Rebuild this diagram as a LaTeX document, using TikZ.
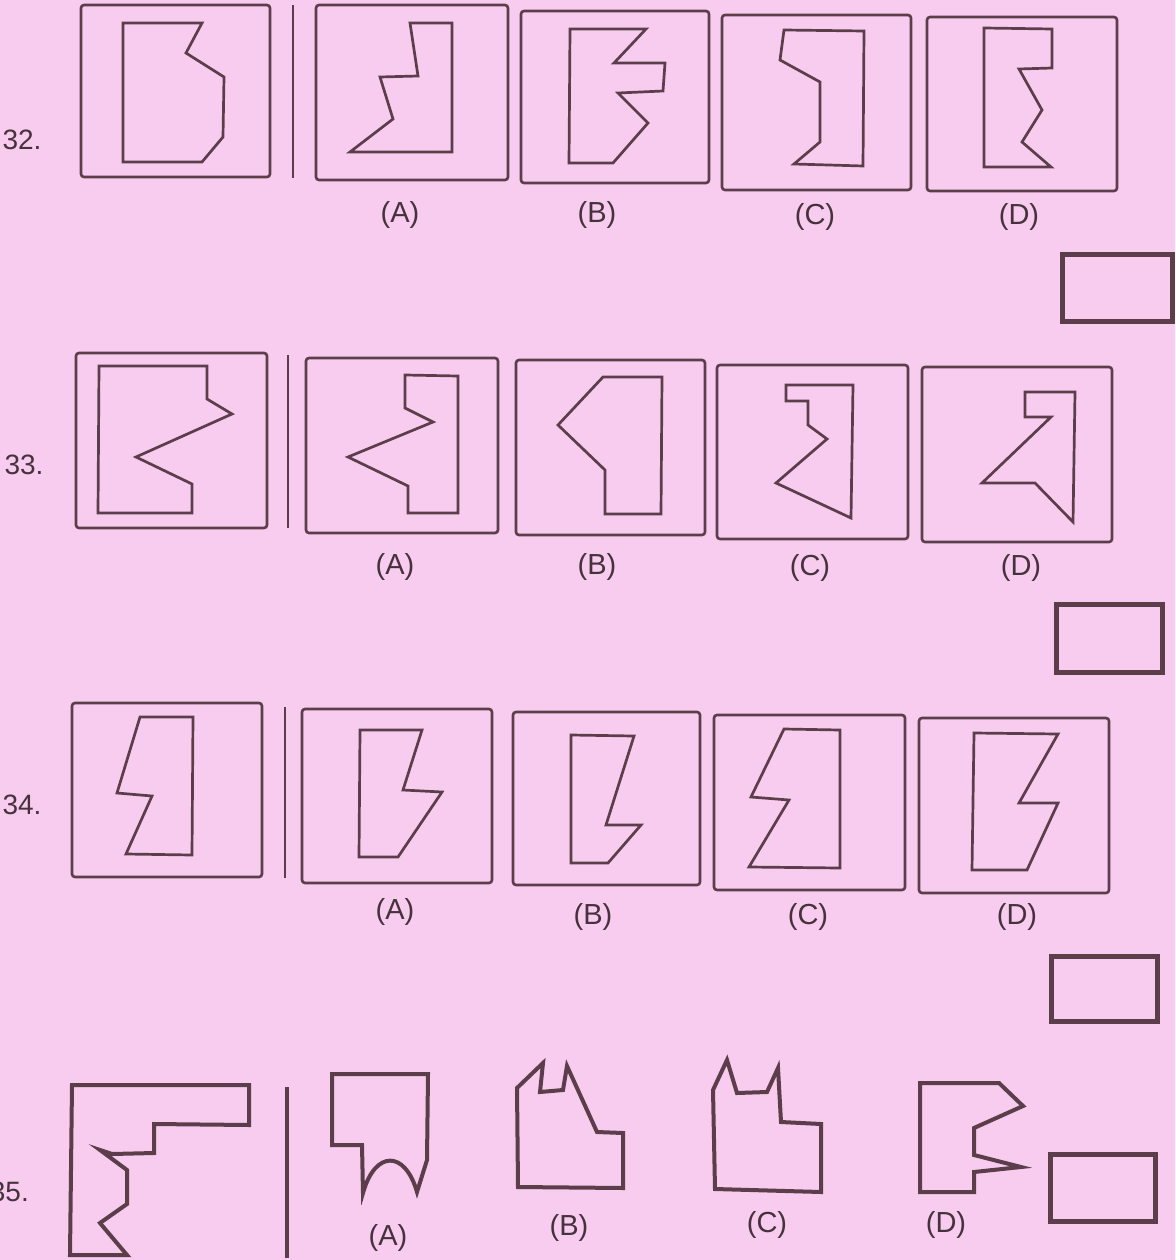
\documentclass[tikz,border=0pt]{standalone}
\usepackage{fontspec}
\setmainfont{Liberation Sans}
\definecolor{bgpink}{RGB}{248,204,238}
\definecolor{ink}{RGB}{92,62,74}
\definecolor{txt}{RGB}{70,50,60}
\begin{document}
\begin{tikzpicture}[x=1pt,y=-1pt,
  qbox/.style={draw=ink,line width=2.6pt,rounded corners=3pt},
  fig/.style={draw=ink,line width=2.7pt,line join=miter},
  figb/.style={draw=ink,line width=4pt,line join=miter},
  ansrect/.style={draw=ink,line width=5pt},
  sepline/.style={draw=ink,line width=2.6pt},
  septhick/.style={draw=ink,line width=4pt},
  lbl/.style={text=txt,font=\fontsize{29}{34}\selectfont,inner sep=0pt},
  num/.style={text=txt,font=\fontsize{28}{33}\selectfont,inner sep=0pt}]
\fill[bgpink] (0,0) rectangle (1175,1260);
\useasboundingbox (0,0) rectangle (1175,1260);

% ---------- Row 32 ----------
\node[num] (n32) at (22,140) {32.};
\draw[qbox] (81,5) rectangle (270,177);
\draw[fig] (123,23)--(202,23)--(186,53)--(224,77)--(223,137)--(202,162)--(123,162)--cycle;
\draw[sepline] (293,5)--(293,178);
\draw[qbox] (316,5) rectangle (508,180);
\draw[fig] (410,23)--(452,23)--(452,152)--(350,152)--(393,119)--(380,77)--(418,76)--cycle;
\draw[qbox] (521,11) rectangle (709,183);
\draw[fig] (570,29)--(646,29)--(614,63)--(665,63)--(663,91)--(618,93)--(648,123)--(613,163)--(569,163)--cycle;
\draw[qbox] (722,15) rectangle (911,190);
\draw[fig] (784,30)--(864,31)--(863,166)--(794,164)--(820,142)--(820,82)--(780,60)--cycle;
\draw[qbox] (927,17) rectangle (1117,191);
\draw[fig] (984,28)--(1052,29)--(1052,68)--(1019,69)--(1042,110)--(1022,142)--(1051,167)--(984,167)--cycle;
\node[lbl] (a32) at (400,215) {(A)};
\node[lbl] (b32) at (597,215) {(B)};
\node[lbl] (c32) at (815,217) {(C)};
\node[lbl] (d32) at (1019,217) {(D)};
\draw[ansrect] (1062,254) rectangle (1172,321);

% ---------- Row 33 ----------
\node[num] (n33) at (24,465) {33.};
\draw[qbox] (76,353) rectangle (267,528);
\draw[fig] (99,366)--(207,366)--(207,399)--(232,414)--(136,457)--(192,484)--(192,513)--(98,513)--cycle;
\draw[sepline] (288,355)--(288,528);
\draw[qbox] (306,358) rectangle (498,533);
\draw[fig] (405,375)--(458,376)--(458,513)--(408,513)--(408,486)--(348,457)--(433,422)--(405,408)--cycle;
\draw[qbox] (516,360) rectangle (705,535);
\draw[fig] (603,377)--(662,377)--(661,514)--(605,514)--(605,470)--(558,425)--cycle;
\draw[qbox] (717,365) rectangle (908,539);
\draw[fig] (786,385)--(853,385)--(851,518)--(776,483)--(827,439)--(808,425)--(808,401)--(786,401)--cycle;
\draw[qbox] (922,367) rectangle (1112,542);
\draw[fig] (1025,392)--(1075,392)--(1073,522)--(1035,483)--(982,483)--(1051,417)--(1025,417)--cycle;
\node[lbl] (a33) at (395,567) {(A)};
\node[lbl] (b33) at (597,567) {(B)};
\node[lbl] (c33) at (810,568) {(C)};
\node[lbl] (d33) at (1021,568) {(D)};
\draw[ansrect] (1056,604) rectangle (1162,672);

% ---------- Row 34 ----------
\node[num] (n34) at (22,805) {34.};
\draw[qbox] (72,703) rectangle (262,877);
\draw[fig] (140,717)--(193,717)--(192,855)--(126,854)--(152,796)--(117,793)--cycle;
\draw[sepline] (285,707)--(285,878);
\draw[qbox] (302,709) rectangle (492,883);
\draw[fig] (360,730)--(422,730)--(403,790)--(442,792)--(398,857)--(359,857)--cycle;
\draw[qbox] (513,712) rectangle (700,885);
\draw[fig] (571,735)--(634,736)--(606,825)--(641,825)--(608,863)--(571,863)--cycle;
\draw[qbox] (714,715) rectangle (905,890);
\draw[fig] (784,729)--(840,730)--(840,868)--(749,867)--(789,800)--(751,797)--cycle;
\draw[qbox] (919,718) rectangle (1109,893);
\draw[fig] (974,733)--(1058,734)--(1019,803)--(1058,803)--(1027,870)--(972,870)--cycle;
\node[lbl] (a34) at (395,912) {(A)};
\node[lbl] (b34) at (593,917) {(B)};
\node[lbl] (c34) at (808,917) {(C)};
\node[lbl] (d34) at (1017,917) {(D)};
\draw[ansrect] (1051,956) rectangle (1157,1021);

% ---------- Row 35 ----------
\node[num,anchor=east] (n35) at (29,1192) {35.};
\draw[figb] (72,1085)--(249,1085)--(249,1125)--(154,1124)--(154,1153)--(112,1154)--(100,1150)--(127,1170)--(127,1204)--(100,1223)--(127,1255)--(70,1255)--cycle;
\draw[septhick] (287,1087)--(287,1258);
\draw[figb] (332,1074)--(428,1074)--(427,1160)--(417,1192) .. controls (405,1150) and (375,1150) .. (363,1193)--(362,1145)--(332,1145)--cycle;
\draw[figb] (518,1187)--(517,1088)--(543,1063)--(540,1092)--(563,1090)--(567,1066)--(597,1132)--(623,1133)--(623,1188)--cycle;
\draw[figb] (715,1189)--(713,1090)--(727,1060)--(737,1093)--(767,1092)--(778,1068)--(781,1122)--(821,1124)--(821,1192)--cycle;
\draw[figb] (920,1083)--(999,1083)--(1023,1106)--(974,1128)--(974,1155)--(1021,1167)--(974,1172)--(974,1192)--(920,1192)--cycle;
\node[lbl] (a35) at (388,1238) {(A)};
\node[lbl] (b35) at (569,1228) {(B)};
\node[lbl] (c35) at (767,1225) {(C)};
\node[lbl] (d35) at (946,1225) {(D)};
\draw[ansrect] (1050,1154) rectangle (1155,1221);
\end{tikzpicture}
\end{document}
